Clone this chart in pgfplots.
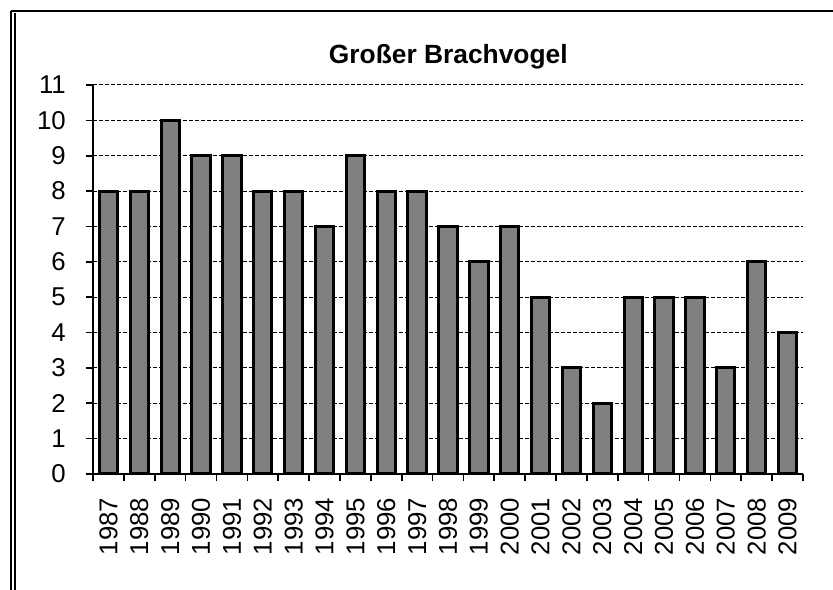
\documentclass[border=0pt]{standalone}
\usepackage{fontspec}
\setmainfont{Liberation Sans}
\usepackage{pgfplots}
\pgfplotsset{compat=1.18}

\begin{document}
\begin{tikzpicture}
% page frame, 1px = 0.03cm (833 x 590 px)
\path[use as bounding box] (0,0) rectangle (24.99cm,17.7cm);
\draw[line width=0.06cm] (0.33cm,17.37cm) -- (24.99cm,17.37cm);
\draw[line width=0.05cm] (0.34cm,17.37cm) -- (0.34cm,0);
\draw[line width=0.05cm] (0.45cm,17.30cm) -- (0.45cm,0);

\node[font=\fontsize{22.5}{26}\selectfont\bfseries] at (13.45cm,16.0cm) {Großer Brachvogel};

\begin{axis}[
    at={(2.79cm,3.48cm)}, anchor=south west,
    scale only axis,
    width=21.3cm, height=11.67cm,
    xmin=-0.5, xmax=22.5,
    ymin=0, ymax=11,
    ytick={0,1,...,11},
    xtick={0,1,...,22},
    xticklabels={1987,1988,1989,1990,1991,1992,1993,1994,1995,1996,1997,1998,
                 1999,2000,2001,2002,2003,2004,2005,2006,2007,2008,2009},
    xtick style={draw=none},
    extra x ticks={-0.5,0.5,...,22.5},
    extra x tick labels={},
    extra x tick style={grid=none, xtick style={draw=black, line width=0.05cm}},
    axis x line*=bottom, axis y line*=left,
    axis line style={line width=0.06cm, -},
    tick align=outside,
    major tick length=0.21cm,
    ytick style={line width=0.05cm, black},
    ymajorgrids,
    grid style={line width=0.03cm, black, dash pattern=on 0.12cm off 0.06cm},
    tick label style={font=\fontsize{22}{24}\selectfont},
    /pgf/number format/assume math mode=true,
    yticklabel style={anchor=east, inner sep=0pt, xshift=-0.6cm},
    xticklabel style={yshift=-0.5cm, rotate=90, anchor=east, inner sep=0pt},
]
\addplot[ybar, bar width=0.55cm, fill=black!50, draw=black, line width=0.09cm]
  coordinates {(0,8) (1,8) (2,10) (3,9) (4,9) (5,8) (6,8) (7,7) (8,9) (9,8)
               (10,8) (11,7) (12,6) (13,7) (14,5) (15,3) (16,2) (17,5) (18,5)
               (19,5) (20,3) (21,6) (22,4)};
\end{axis}
\end{tikzpicture}
\end{document}
